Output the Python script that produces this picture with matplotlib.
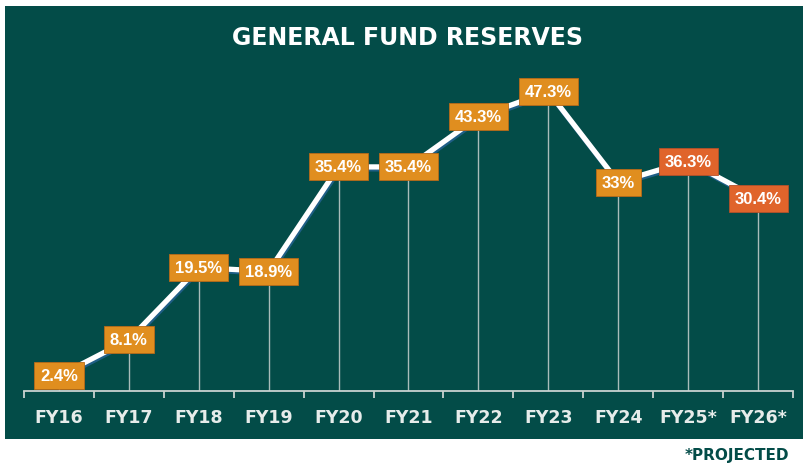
import matplotlib
matplotlib.use("Agg")
import matplotlib.pyplot as plt
import matplotlib.patheffects as pe
from matplotlib.patches import Rectangle
import numpy as np

categories = ["FY16", "FY17", "FY18", "FY19", "FY20", "FY21", "FY22", "FY23", "FY24", "FY25*", "FY26*"]
values = [2.4, 8.1, 19.5, 18.9, 35.4, 35.4, 43.3, 47.3, 33.0, 36.3, 30.4]
labels = ["2.4%", "8.1%", "19.5%", "18.9%", "35.4%", "35.4%", "43.3%", "47.3%", "33%", "36.3%", "30.4%"]
projected = [False] * 9 + [True, True]
title = "GENERAL FUND RESERVES"
footnote = "*PROJECTED"

BG = "#034C48"
ORANGE = "#E08E1F"
RED = "#E0642B"

W, H = 804, 464
fig = plt.figure(figsize=(W / 100, H / 100), dpi=100)
fig.patch.set_facecolor("white")
fig.patches.append(Rectangle((5 / W, (H - 440) / H), 1 - 5 / W, (440 - 7) / H,
                             transform=fig.transFigure, facecolor=BG, edgecolor="none", zorder=-10))

ax_left, ax_right, ax_base, ax_top = 24, 793, 392, 60
ax = fig.add_axes([ax_left / W, (H - ax_base) / H, (ax_right - ax_left) / W, (ax_base - ax_top) / H])
ax.set_zorder(1)
ax.patch.set_visible(False)
n = len(categories)
x = np.arange(n)
ax.set_xlim(-0.5, n - 0.5)
ax.set_ylim(0, (ax_base - ax_top) / 6.33)

for s in ["top", "right", "left"]:
    ax.spines[s].set_visible(False)
ax.spines["bottom"].set_color("#c9d3d1")
ax.spines["bottom"].set_linewidth(1.3)
ax.set_yticks([])
ax.set_xticks(x)
ax.set_xticklabels(categories)
ax.set_xticks(np.arange(-0.5, n, 1.0), minor=True)
ax.tick_params(axis="x", which="major", length=0, pad=12)
ax.tick_params(axis="x", which="minor", length=5, width=1.3, color="#c9d3d1", direction="out")
for t in ax.get_xticklabels():
    t.set_fontfamily("DejaVu Sans")
    t.set_fontweight("bold")
    t.set_fontsize(12.5)
    t.set_color("#e6ecea")

# drop lines
ax.vlines(x, 0, values, color="#a9bcb9", linewidth=1.0, zorder=2)

# line
line, = ax.plot(x, values, color="white", linewidth=3.8, solid_joinstyle="round",
                solid_capstyle="round", zorder=3)
line.set_path_effects([pe.SimpleLineShadow(offset=(0.8, -1.4), shadow_color="#1f5e86", alpha=1.0),
                       pe.Normal()])

# labels
for xi, v, lab, p in zip(x, values, labels, projected):
    ax.text(xi, v, lab, ha="center", va="center", fontsize=12, fontweight="bold",
            family="Liberation Sans", color="white", zorder=5,
            bbox=dict(boxstyle="square,pad=0.36", facecolor=RED if p else ORANGE,
                      edgecolor="#b86a18" if not p else "#b4502a", linewidth=0.6))

fig.text(408 / W, 1 - 38 / H, title, ha="center", va="center", color="white",
         fontsize=17, fontweight="bold", family="DejaVu Sans")
fig.text(789 / W, 1 - 456 / H, footnote, ha="right", va="center", color=BG,
         fontsize=11, fontweight="bold", family="DejaVu Sans")

fig.savefig("out.png", dpi=100, facecolor="white")
